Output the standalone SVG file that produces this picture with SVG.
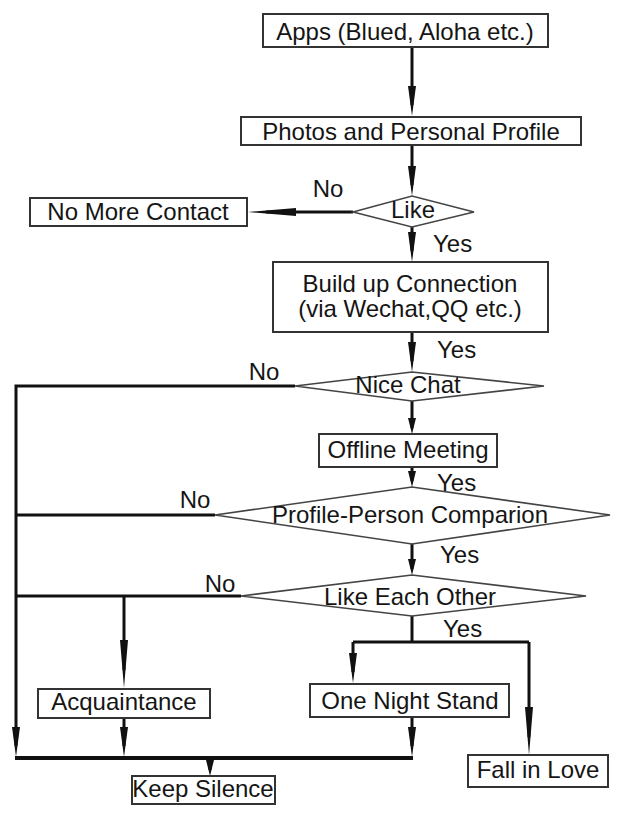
<svg xmlns="http://www.w3.org/2000/svg" width="630" height="817" viewBox="0 0 630 817">
<style>
  .box{fill:#fff;stroke:#333;stroke-width:2}
  .dia{fill:#fff;stroke:#444;stroke-width:1.6}
  text{font-family:"Liberation Sans",Arial,sans-serif;font-size:24px;fill:#151515}
  .c{text-anchor:middle}
  .ln{fill:none;stroke:#111;stroke-width:3}
  .bold{fill:none;stroke:#111;stroke-width:4}
</style>
<defs>
  <marker id="ah" viewBox="0 0 30 8" refX="19" refY="4" markerWidth="30" markerHeight="8" markerUnits="userSpaceOnUse" orient="auto">
    <path d="M0,0 L30,4 L0,8 z" fill="#111"/>
  </marker>
  <marker id="ahs" viewBox="0 0 16 8" refX="10" refY="4" markerWidth="16" markerHeight="8" markerUnits="userSpaceOnUse" orient="auto">
    <path d="M0,0 L16,4 L0,8 z" fill="#111"/>
  </marker>
  <marker id="ahl" viewBox="0 0 48 8" refX="30" refY="4" markerWidth="48" markerHeight="8" markerUnits="userSpaceOnUse" orient="auto">
    <path d="M0,0 L48,4 L0,8 z" fill="#111"/>
  </marker>
</defs>
<rect width="630" height="817" fill="#fff"/>

<g id="connectors">
  <line class="ln" x1="412" y1="47" x2="412" y2="105" marker-end="url(#ah)"/>
  <line class="ln" x1="412" y1="145" x2="412" y2="185" marker-end="url(#ah)"/>
  <line class="ln" x1="353" y1="212" x2="266" y2="212" marker-end="url(#ahl)"/>
  <line class="ln" x1="412" y1="227" x2="412" y2="251" marker-end="url(#ah)"/>
  <line class="ln" x1="412" y1="332" x2="412" y2="361" marker-end="url(#ah)"/>
  <line class="ln" x1="412" y1="401" x2="412" y2="428" marker-end="url(#ahs)"/>
  <line class="ln" x1="412" y1="467" x2="412" y2="481" marker-end="url(#ahs)"/>
  <line class="ln" x1="412" y1="544" x2="412" y2="569" marker-end="url(#ahs)"/>
  <polyline class="ln" points="295,386 16,386 16,746" marker-end="url(#ah)"/>
  <line class="ln" x1="215" y1="515" x2="16" y2="515"/>
  <line class="ln" x1="241" y1="596" x2="16" y2="596"/>
  <line class="ln" x1="124" y1="596" x2="124" y2="670" marker-end="url(#ahl)"/>
  <line class="ln" x1="412" y1="616" x2="412" y2="642"/>
  <line class="ln" x1="353" y1="642" x2="529" y2="642"/>
  <line class="ln" x1="353" y1="642" x2="353" y2="672" marker-end="url(#ah)"/>
  <line class="ln" x1="529" y1="642" x2="529" y2="737" marker-end="url(#ahl)"/>
  <line class="ln" x1="124" y1="718" x2="124" y2="746" marker-end="url(#ah)"/>
  <line class="ln" x1="412" y1="717" x2="412" y2="746" marker-end="url(#ah)"/>
  <line class="bold" x1="15" y1="758" x2="413" y2="758"/>
  <line class="ln" x1="210" y1="758" x2="210" y2="770" marker-end="url(#ahs)"/>

  <text class="c" x="328" y="197">No</text>
  <text x="433" y="252">Yes</text>
  <text x="437" y="358">Yes</text>
  <text class="c" x="264" y="380">No</text>
  <text x="437" y="491">Yes</text>
  <text class="c" x="195" y="508">No</text>
  <text x="440" y="563">Yes</text>
  <text class="c" x="220" y="592">No</text>
  <text x="443" y="637">Yes</text>
</g>

<g id="apps">
  <rect class="box" x="263" y="14" width="285" height="33"/>
  <text class="c" x="405" y="40">Apps (Blued, Aloha etc.)</text>
</g>
<g id="photos">
  <rect class="box" x="241" y="117" width="340" height="28"/>
  <text class="c" x="411" y="140">Photos and Personal Profile</text>
</g>
<g id="no-more-contact">
  <rect class="box" x="30" y="198" width="217" height="28"/>
  <text class="c" x="138" y="220">No More Contact</text>
</g>
<g id="like">
  <polygon class="dia" points="353,212 412,196 474,212 412,227"/>
  <text class="c" x="413" y="218">Like</text>
</g>
<g id="build">
  <rect class="box" x="273" y="262" width="275" height="70"/>
  <text class="c" x="410" y="292">Build up Connection</text>
  <text class="c" x="410" y="317">(via Wechat,QQ etc.)</text>
</g>
<g id="nice-chat">
  <polygon class="dia" points="295,386 412,372 544,386 412,401"/>
  <text class="c" x="408" y="393">Nice Chat</text>
</g>
<g id="offline">
  <rect class="box" x="319" y="434" width="178" height="33"/>
  <text class="c" x="408" y="458">Offline Meeting</text>
</g>
<g id="profile-person">
  <polygon class="dia" points="215,515 412,487 610,515 412,544"/>
  <text class="c" x="410" y="523">Profile-Person Comparion</text>
</g>
<g id="like-each-other">
  <polygon class="dia" points="241,596 412,575 586,596 412,616"/>
  <text class="c" x="410" y="605">Like Each Other</text>
</g>
<g id="acquaintance">
  <rect class="box" x="38" y="689" width="172" height="29"/>
  <text class="c" x="124" y="710">Acquaintance</text>
</g>
<g id="one-night-stand">
  <rect class="box" x="310" y="684" width="199" height="33"/>
  <text class="c" x="410" y="709">One Night Stand</text>
</g>
<g id="fall-in-love">
  <rect class="box" x="468" y="755" width="140" height="32"/>
  <text class="c" x="538" y="778">Fall in Love</text>
</g>
<g id="keep-silence">
  <rect class="box" x="132" y="776" width="143" height="28"/>
  <text class="c" x="203" y="797">Keep Silence</text>
</g>
</svg>
